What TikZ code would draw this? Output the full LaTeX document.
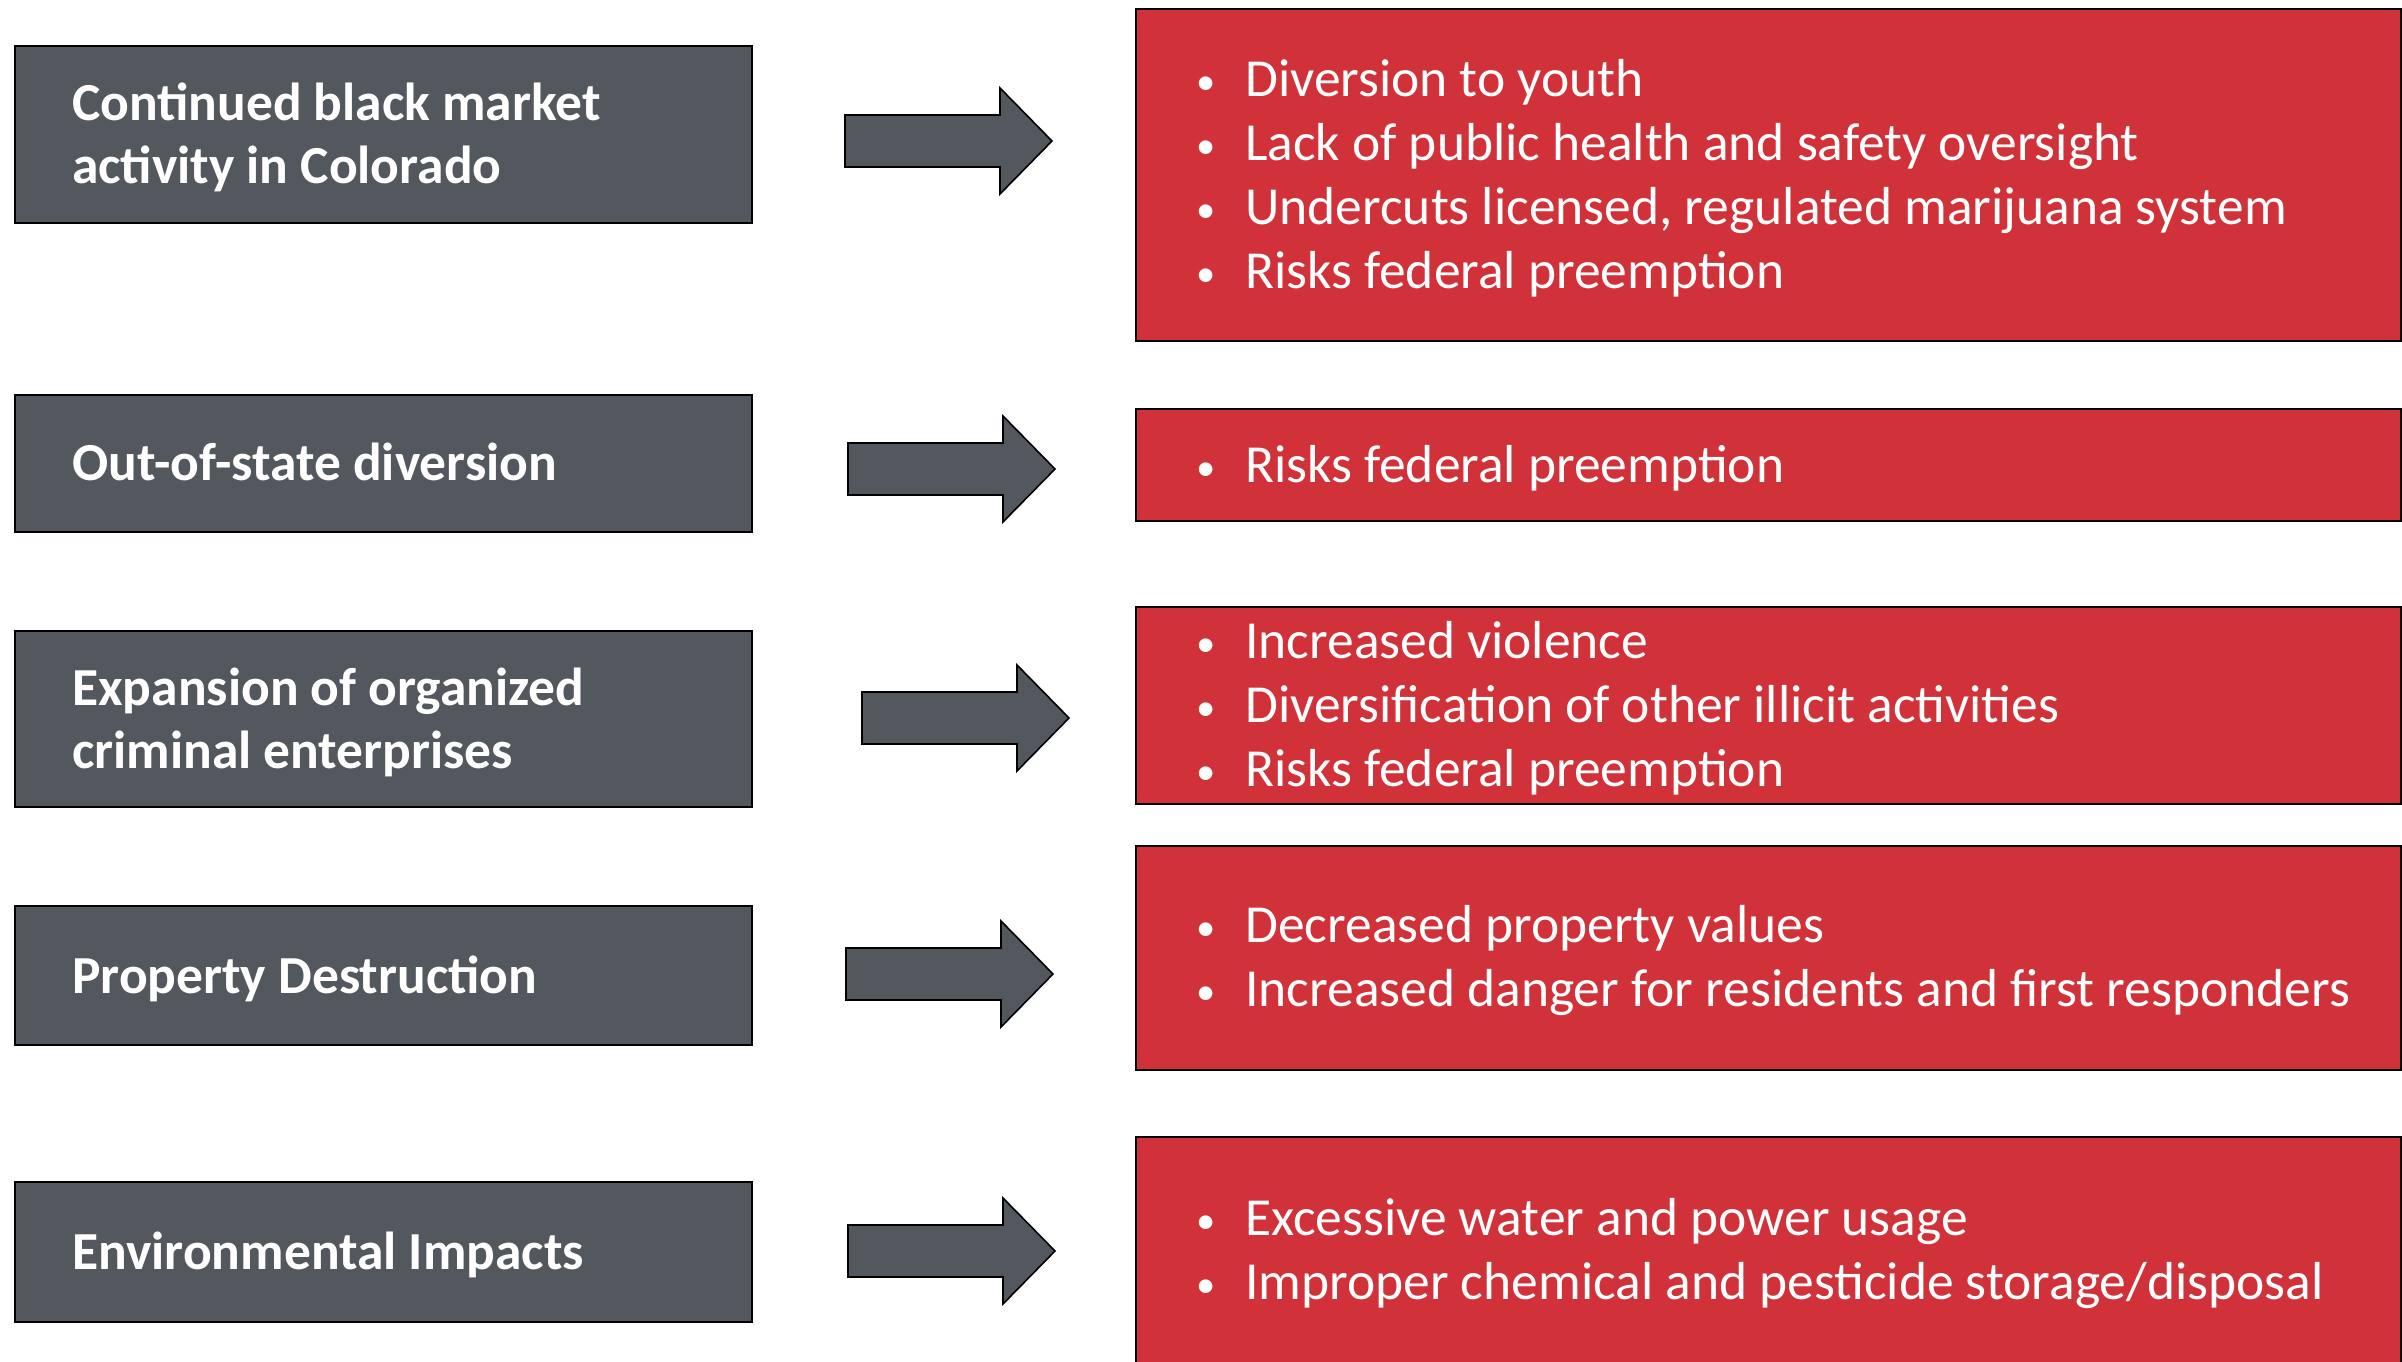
\documentclass[tikz,border=0pt]{standalone}
\usepackage{fontspec}
\setmainfont{Carlito}
\definecolor{boxgray}{RGB}{83,87,94}
\definecolor{boxred}{RGB}{209,50,57}
\newcommand{\bul}{\makebox[49pt][l]{\raisebox{2pt}{\scalebox{0.72}{\textbullet}}}}
\newcommand{\fl}{\rule{0pt}{50pt}}
\tikzset{
  causebox/.style={draw=black, line width=1.6pt, fill=boxgray, rectangle, inner sep=0pt, anchor=north west, minimum width=737pt},
  effectbox/.style={draw=black, line width=1.6pt, fill=boxred, rectangle, inner sep=0pt, anchor=north west, minimum width=1265pt},
  causetext/.style={text=white, inner sep=0pt, anchor=north west, align=left, font=\fontsize{53.5}{63}\selectfont\bfseries},
  effecttext/.style={text=white, inner sep=0pt, anchor=north west, align=left, font=\fontsize{53.5}{64}\selectfont},
  arrowstyle/.style={draw=black, line width=1.6pt, fill=boxgray, line join=miter},
  blockarrow/.pic={\draw[arrowstyle] (0,-26) -- (155,-26) -- (155,-53) -- (207,0) -- (155,53) -- (155,26) -- (0,26) -- cycle;}
}
\begin{document}
\begin{tikzpicture}[x=1pt,y=-1pt]
\useasboundingbox (0,0) rectangle (2402,1361);
% cause boxes
\node[causebox, minimum height=177pt] (c1) at (14,45) {};
\node[causebox, minimum height=137pt] (c2) at (14,394) {};
\node[causebox, minimum height=176pt] (c3) at (14,630) {};
\node[causebox, minimum height=139pt] (c4) at (14,905) {};
\node[causebox, minimum height=140pt] (c5) at (14,1181) {};
% effect boxes
\node[effectbox, minimum height=332pt] (e1) at (1135,8) {};
\node[effectbox, minimum height=112pt] (e2) at (1135,408) {};
\node[effectbox, minimum height=197pt] (e3) at (1135,606) {};
\node[effectbox, minimum height=224pt] (e4) at (1135,845) {};
\node[effectbox, minimum height=240pt] (e5) at (1135,1136) {};
% cause texts
\node[causetext] (ct1) at (72,70) {\fl Continued black market\\activity in Colorado};
\node[causetext] (ct2) at (72,430) {\fl Out-of-state diversion};
\node[causetext] (ct3) at (72,655) {\fl Expansion of organized\\criminal enterprises};
\node[causetext] (ct4) at (72,943) {\fl Property Destruction};
\node[causetext] (ct5) at (72,1219) {\fl Environmental Impacts};
% effect texts
\node[effecttext] (et1) at (1196,46) {\fl\bul Diversion to youth\\\bul Lack of public health and safety oversight\\\bul Undercuts licensed, regulated marijuana system\\\bul Risks federal preemption};
\node[effecttext] (et2) at (1196,432) {\fl\bul Risks federal preemption};
\node[effecttext] (et3) at (1196,608) {\fl\bul Increased violence\\\bul Diversification of other illicit activities\\\bul Risks federal preemption};
\node[effecttext] (et4) at (1196,892) {\fl\bul Decreased property values\\\bul Increased danger for residents and first responders};
\node[effecttext] (et5) at (1196,1185) {\fl\bul Excessive water and power usage\\\bul Improper chemical and pesticide storage/disposal};
% arrows
\pic (a1) at (845,141) {blockarrow};
\pic (a2) at (848,469) {blockarrow};
\pic (a3) at (862,718) {blockarrow};
\pic (a4) at (846,974) {blockarrow};
\pic (a5) at (848,1251) {blockarrow};
\end{tikzpicture}
\end{document}
